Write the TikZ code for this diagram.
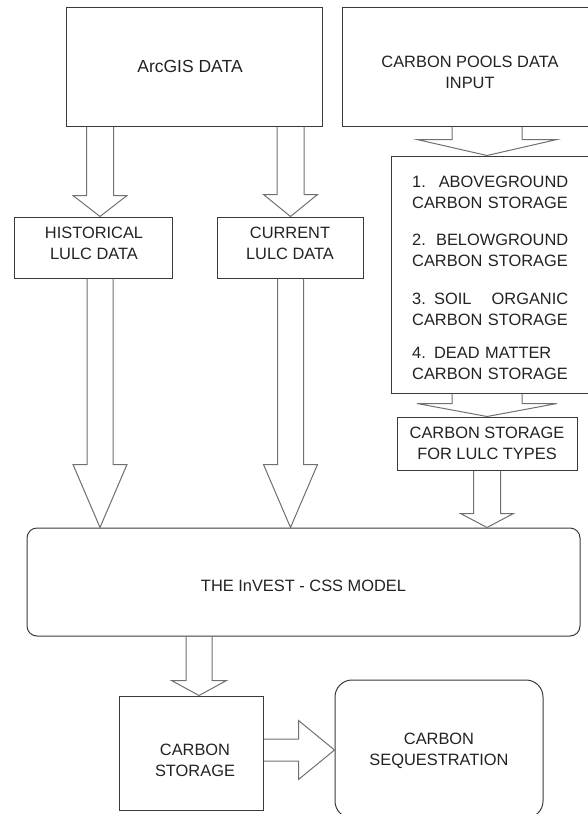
\documentclass[tikz,border=0pt]{standalone}
\usepackage{fontspec}
\setmainfont{Liberation Sans}
\usetikzlibrary{calc}
\definecolor{boxc}{HTML}{3A3A3A}
\definecolor{arrc}{HTML}{707070}
\definecolor{txtc}{HTML}{222222}
\newcommand{\bdown}[5]{\draw[barrow] let \p1=#1,\p2=#2 in
  (\x1-#3,\y1) -- (\x1-#3,\y2+#5) -- (\x1-#4,\y2+#5) -- (\x1,\y2) -- (\x1+#4,\y2+#5) -- (\x1+#3,\y2+#5) -- (\x1+#3,\y1);}
\newcommand{\bright}[5]{\draw[barrow] let \p1=#1,\p2=#2 in
  (\x1,\y1+#3) -- (\x2-#5,\y1+#3) -- (\x2-#5,\y1+#4) -- (\x2,\y1) -- (\x2-#5,\y1-#4) -- (\x2-#5,\y1-#3) -- (\x1,\y1-#3);}
\begin{document}
\begin{tikzpicture}[x=1pt,y=-1pt,
  box/.style={draw=boxc,line width=1pt,inner sep=0pt},
  txt/.style={font=\fontsize{16.4}{21}\selectfont,text=txtc,align=center,inner sep=0pt},
  barrow/.style={draw=arrc,line width=1pt,line join=miter}]
\useasboundingbox (0,0) rectangle (587,814);
% boxes
\node[box,minimum width=256pt,minimum height=119pt,label={[txt,font=\fontsize{17.5}{21}\selectfont,xshift=-4pt]center:ArcGIS DATA}] (arc) at (194,66.5) {};
\node[box,minimum width=256pt,minimum height=119pt,label={[txt,yshift=-5.5pt]center:CARBON POOLS DATA\\INPUT}] (pools) at (470,66.5) {};
\node[box,minimum width=158pt,minimum height=61pt,label={[txt,yshift=4pt,xshift=1pt]center:HISTORICAL\\LULC DATA}] (hist) at (93,247.5) {};
\node[box,minimum width=146pt,minimum height=61pt,label={[txt,yshift=4pt]center:CURRENT\\LULC DATA}] (curr) at (290,247.5) {};
\node[box,minimum width=204pt,minimum height=237pt] (list) at (493,274.5) {};
\node[txt,align=left,text width=156pt,anchor=north west] (listt) at (412,176) {\hyphenpenalty=10000 1.\hfill ABOVEGROUND\\\mbox{CARBON STORAGE}\\[16pt]2.\hfill BELOWGROUND\\\mbox{CARBON STORAGE}\\[17pt]3. SOIL\hfill ORGANIC\\\mbox{CARBON STORAGE}\\[12pt]4. DEAD MATTER\\\mbox{CARBON STORAGE}};
\node[box,minimum width=180pt,minimum height=53pt,label={[txt]center:CARBON STORAGE\\FOR LULC TYPES}] (lulc) at (487,443.5) {};
\node[box,rounded corners=10pt,minimum width=553pt,minimum height=108pt,label={[txt,yshift=-4pt]center:THE InVEST - CSS MODEL}] (model) at (303.5,582) {};
\node[box,minimum width=144pt,minimum height=114pt,label={[txt,yshift=-7.5pt,xshift=4pt]center:CARBON\\STORAGE}] (cstore) at (191,753) {};
\node[box,rounded corners=17pt,minimum width=208pt,minimum height=138pt,label={[txt,yshift=-1.5pt]center:CARBON\\SEQUESTRATION}] (seq) at (439,749) {};
% arrow axes
\coordinate (xh) at (100,0);
\coordinate (xc) at (290.5,0);
\coordinate (xp) at (487,0);
\coordinate (xs) at (199,0);
\coordinate (ya) at (0,750);
% arrows
\bdown{(arc.south -| xh)}{(hist.north -| xh)}{13.5pt}{27pt}{21pt}
\bdown{(arc.south -| xc)}{(curr.north -| xc)}{13.5pt}{27pt}{22pt}
\bdown{(hist.south -| xh)}{(model.north -| xh)}{13pt}{27pt}{63pt}
\bdown{(curr.south -| xc)}{(model.north -| xc)}{13pt}{27pt}{63pt}
\bdown{(pools.south -| xp)}{(list.north -| xp)}{35pt}{70pt}{16pt}
\bdown{(list.south -| xp)}{(lulc.north -| xp)}{35pt}{70pt}{13pt}
\bdown{(lulc.south -| xp)}{(model.north -| xp)}{13.5pt}{26.5pt}{14pt}
\bdown{(model.south -| xs)}{(cstore.north -| xs)}{13pt}{27.5pt}{15pt}
\bright{(cstore.east |- ya)}{(seq.west |- ya)}{11pt}{29.5pt}{36pt}
\end{tikzpicture}
\end{document}
